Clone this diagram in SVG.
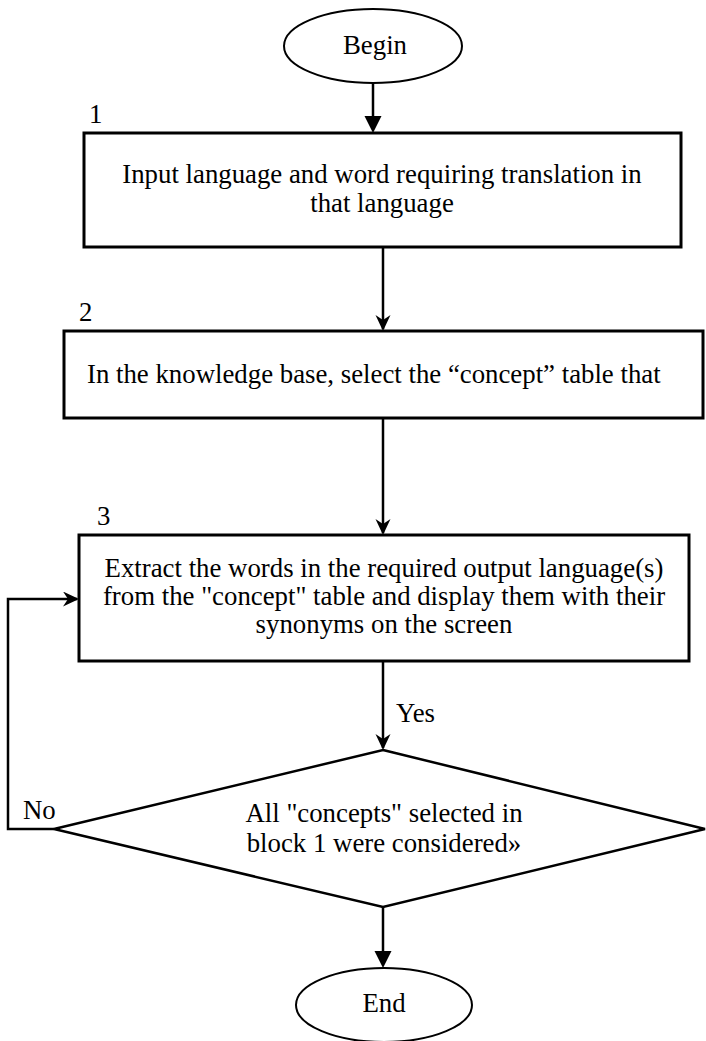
<svg xmlns="http://www.w3.org/2000/svg" width="706" height="1041" viewBox="0 0 706 1041">
  <style>
    .shape { fill: #ffffff; stroke: #000000; }
    .box { stroke-width: 3; }
    .term { stroke-width: 2; }
    .dec { stroke-width: 2.5; }
    .conn { fill: none; stroke: #000000; stroke-width: 2.5; }
    text { font-family: "Liberation Serif", "Times New Roman", serif; font-size: 26.8px; fill: #000000; }
    .c { text-anchor: middle; }
  </style>
  <defs>
    <marker id="tri" markerUnits="userSpaceOnUse" markerWidth="18" markerHeight="18" viewBox="0 0 18 18" refX="13" refY="8.5" orient="auto">
      <path d="M0,0 L17,8.5 L0,17 Z" fill="#000000"/>
    </marker>
    <marker id="stealth" markerUnits="userSpaceOnUse" markerWidth="18" markerHeight="16" viewBox="0 0 18 16" refX="14" refY="7.5" orient="auto">
      <path d="M0,0 L16,7.5 L0,15 L5,7.5 Z" fill="#000000"/>
    </marker>
  </defs>

  <g id="connectors">
    <line class="conn" x1="373" y1="83" x2="373" y2="129" marker-end="url(#tri)"/>
    <line class="conn" x1="383" y1="247" x2="383" y2="329" marker-end="url(#stealth)"/>
    <line class="conn" x1="383" y1="418" x2="383" y2="533" marker-end="url(#stealth)"/>
    <line class="conn" x1="383" y1="661" x2="383" y2="748" marker-end="url(#stealth)"/>
    <line class="conn" x1="383" y1="907" x2="383" y2="964" marker-end="url(#tri)"/>
    <polyline class="conn" points="54,829 8,829 8,599 77,599" marker-end="url(#stealth)"/>
    <text x="396" y="722">Yes</text>
    <text x="23" y="819">No</text>
  </g>

  <g id="begin">
    <ellipse class="shape term" cx="373" cy="46" rx="89" ry="37"/>
    <text class="c" x="375" y="54">Begin</text>
  </g>

  <g id="block1">
    <text x="89" y="123">1</text>
    <rect class="shape box" x="84" y="133" width="597" height="114"/>
    <text class="c" x="382" y="183">Input language and word requiring translation in</text>
    <text class="c" x="382" y="212">that language</text>
  </g>

  <g id="block2">
    <text x="79" y="321">2</text>
    <rect class="shape box" x="64" y="331" width="639" height="87"/>
    <text x="87" y="383">In the knowledge base, select the “concept” table that</text>
  </g>

  <g id="block3">
    <text x="97" y="525">3</text>
    <rect class="shape box" x="79" y="535" width="610" height="126"/>
    <text class="c" x="384" y="577">Extract the words in the required output language(s)</text>
    <text class="c" x="384" y="605">from the "concept" table and display them with their</text>
    <text class="c" x="384" y="633">synonyms on the screen</text>
  </g>

  <g id="decision">
    <polygon class="shape dec" points="383,750 705,829 383,907 54,829"/>
    <text class="c" x="384" y="822">All "concepts" selected in</text>
    <text class="c" x="384" y="852">block 1 were considered»</text>
  </g>

  <g id="end">
    <ellipse class="shape term" cx="384" cy="1005" rx="88" ry="37"/>
    <text class="c" x="384" y="1012">End</text>
  </g>
</svg>
